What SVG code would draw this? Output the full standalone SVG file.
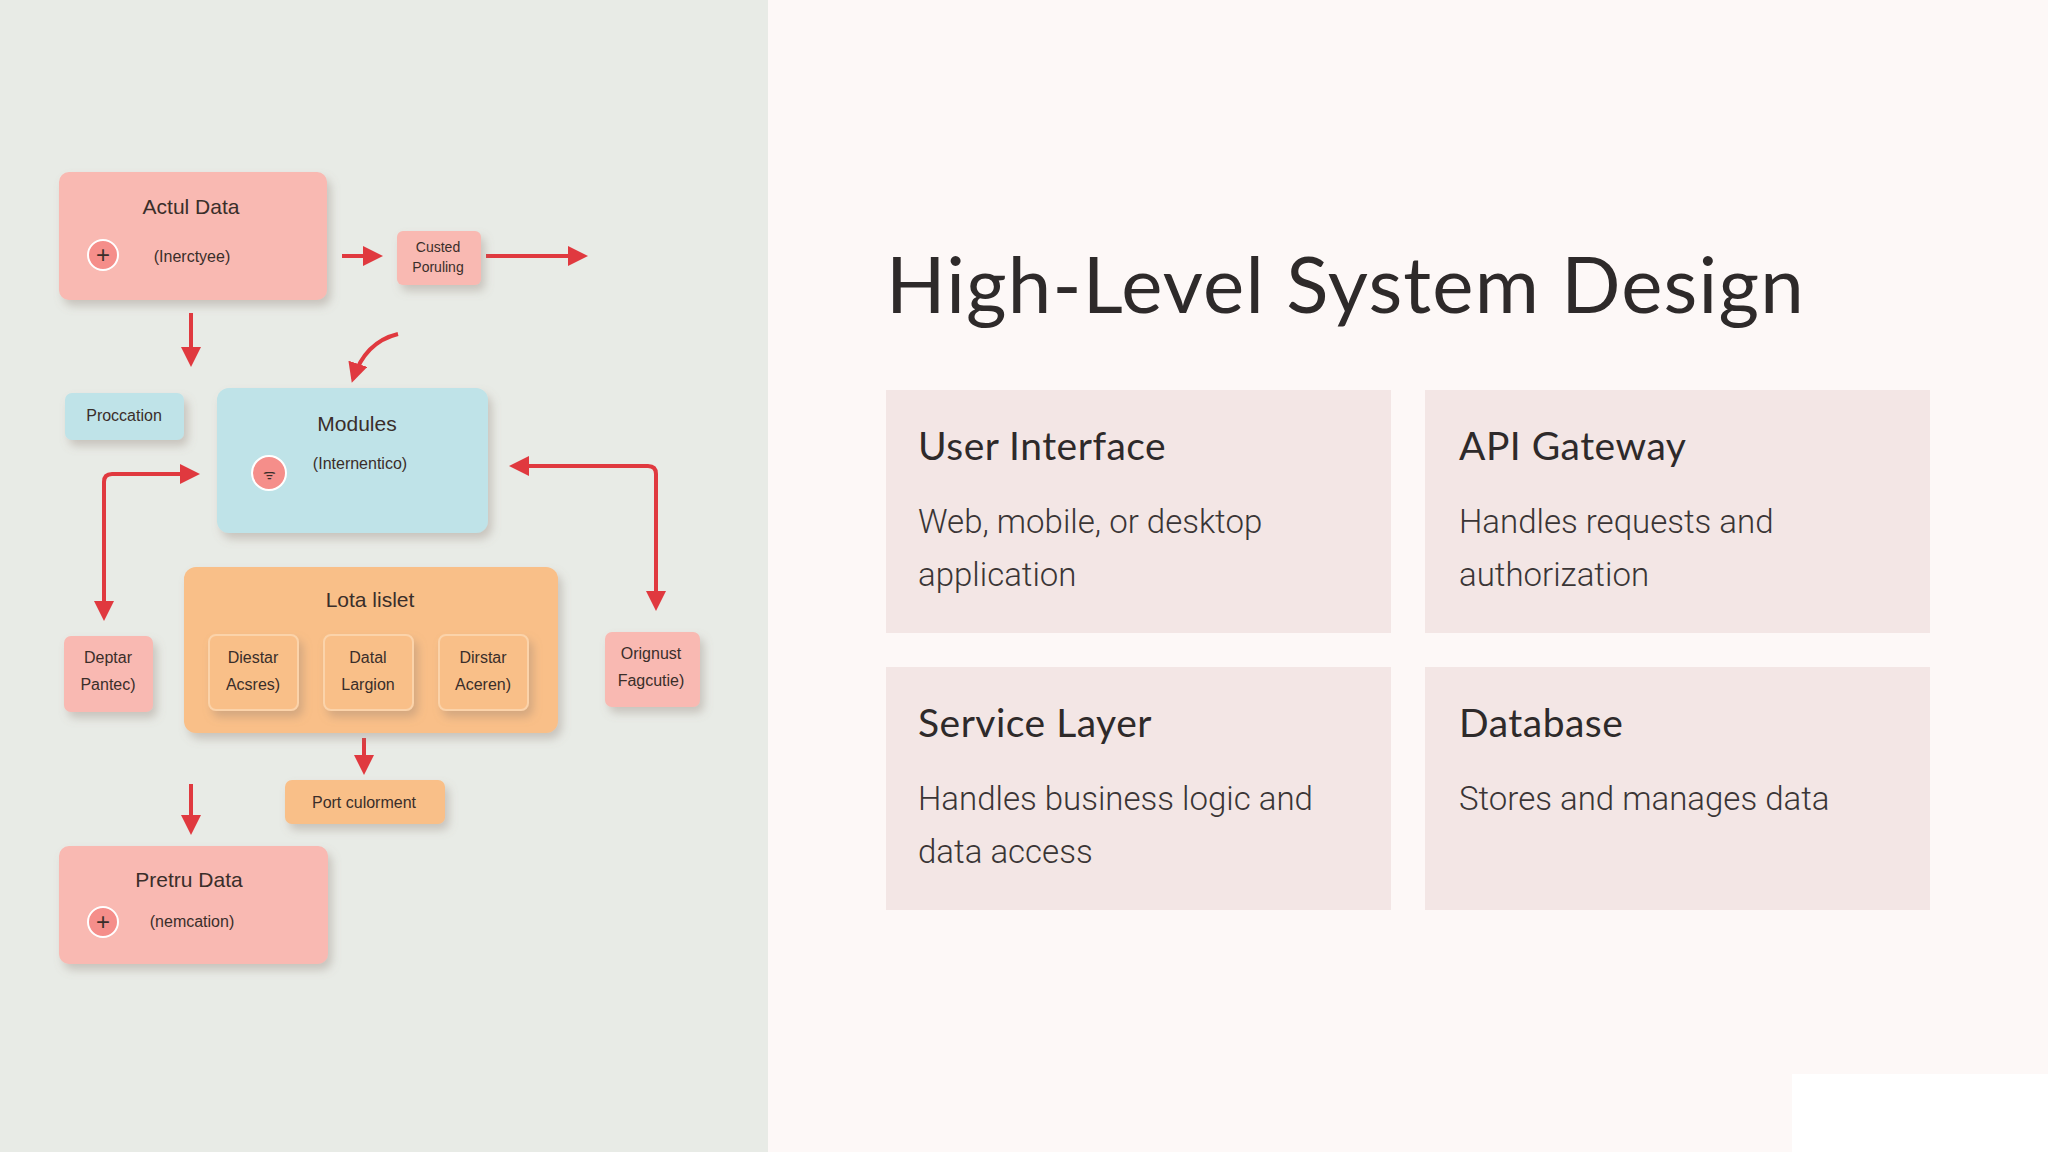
<svg xmlns="http://www.w3.org/2000/svg" width="2048" height="1152" viewBox="0 0 2048 1152">
<defs>
<filter id="sh" x="-20%" y="-20%" width="150%" height="160%"><feDropShadow dx="4" dy="6" stdDeviation="5" flood-color="#8a7a70" flood-opacity="0.35"/></filter>
<marker id="ah" viewBox="0 0 10 10" refX="8" refY="5" markerWidth="5" markerHeight="5" orient="auto-start-reverse"><path d="M0,0 L10,5 L0,10 z" fill="#e0393f"/></marker>
<style>
.t{font-family:"Liberation Sans",Arial,sans-serif;fill:#3a2e2a;text-anchor:middle}
.pink{fill:#f9b9b2}.blue{fill:#bfe3e8}.org{fill:#f9bf88}
.c{stroke:#e0393f;stroke-width:4;fill:none;marker-end:url(#ah)}
.c2{marker-start:url(#ah)}
.card{fill:#f3e6e5}
.h{font-family:Lato,"Liberation Sans",sans-serif;fill:#2e2a2a}
.b{font-family:Roboto,"Liberation Sans",sans-serif;font-weight:300;fill:#3a3535;font-size:33px}
</style>
</defs>
<rect width="2048" height="1152" fill="#fdf8f7"/>
<rect width="768" height="1152" fill="#e8ebe6"/>
<rect x="1792" y="1074" width="256" height="78" fill="#ffffff"/>
<g id="connectors">
<path class="c" d="M342,256 H379"/>
<path class="c" d="M486,256 H584"/>
<path class="c" d="M191,313 V363"/>
<path class="c" d="M398,334 Q365,342 353,379"/>
<path class="c c2" d="M104,617 V482 Q104,474 112,474 H196"/>
<path class="c c2" d="M656,607 V474 Q656,466 648,466 H513"/>
<path class="c" d="M364,738 V771"/>
<path class="c" d="M191,784 V831"/>
</g>
<g id="actul" filter="url(#sh)"><rect class="pink" x="59" y="172" width="268" height="128" rx="10"/></g>
<text class="t" x="191" y="214" font-size="21">Actul Data</text>
<circle cx="103" cy="255" r="15" fill="#f58e8a" stroke="#fff" stroke-width="2"/><text class="t" x="103" y="263" font-size="24">+</text>
<text class="t" x="192" y="262" font-size="16">(Inerctyee)</text>
<g id="custed" filter="url(#sh)"><rect class="pink" x="397" y="231" width="84" height="54" rx="6"/></g>
<text class="t" x="438" y="252" font-size="14">Custed</text><text class="t" x="438" y="272" font-size="14">Poruling</text>
<g id="proc" filter="url(#sh)"><rect class="blue" x="65" y="393" width="119" height="47" rx="7"/></g>
<text class="t" x="124" y="421" font-size="16">Proccation</text>
<g id="modules" filter="url(#sh)"><rect class="blue" x="217" y="388" width="271" height="145" rx="12"/></g>
<text class="t" x="357" y="431" font-size="21">Modules</text>
<circle cx="269" cy="473" r="17" fill="#f58e8a" stroke="#fff" stroke-width="2"/><text class="t" x="269" y="479" font-size="14">ᯤ</text>
<text class="t" x="360" y="469" font-size="16">(Internentico)</text>
<g id="lota" filter="url(#sh)"><rect class="org" x="184" y="567" width="374" height="166" rx="12"/></g>
<text class="t" x="370" y="607" font-size="21">Lota lislet</text>
<g id="inner" filter="url(#sh)">
<rect class="org" x="209" y="635" width="89" height="75" rx="7" stroke="#fbd3aa" stroke-width="2"/>
<rect class="org" x="324" y="635" width="89" height="75" rx="7" stroke="#fbd3aa" stroke-width="2"/>
<rect class="org" x="439" y="635" width="89" height="75" rx="7" stroke="#fbd3aa" stroke-width="2"/>
</g>
<text class="t" x="253" y="663" font-size="16">Diestar</text><text class="t" x="253" y="690" font-size="16">Acsres)</text>
<text class="t" x="368" y="663" font-size="16">Datal</text><text class="t" x="368" y="690" font-size="16">Largion</text>
<text class="t" x="483" y="663" font-size="16">Dirstar</text><text class="t" x="483" y="690" font-size="16">Aceren)</text>
<g id="deptar" filter="url(#sh)"><rect class="pink" x="64" y="636" width="89" height="76" rx="7"/></g>
<text class="t" x="108" y="663" font-size="16">Deptar</text><text class="t" x="108" y="690" font-size="16">Pantec)</text>
<g id="orig" filter="url(#sh)"><rect class="pink" x="605" y="632" width="95" height="75" rx="7"/></g>
<text class="t" x="651" y="659" font-size="16">Orignust</text><text class="t" x="651" y="686" font-size="16">Fagcutie)</text>
<g id="port" filter="url(#sh)"><rect class="org" x="285" y="780" width="160" height="44" rx="7"/></g>
<text class="t" x="364" y="808" font-size="16">Port culorment</text>
<g id="pretru" filter="url(#sh)"><rect class="pink" x="59" y="846" width="269" height="118" rx="10"/></g>
<text class="t" x="189" y="887" font-size="21">Pretru Data</text>
<circle cx="103" cy="922" r="15" fill="#f58e8a" stroke="#fff" stroke-width="2"/><text class="t" x="103" y="930" font-size="24">+</text>
<text class="t" x="192" y="927" font-size="16">(nemcation)</text>
<text class="h" x="886" y="313" font-size="78" letter-spacing="1.2">High-Level System Design</text>
<g id="ui"><rect class="card" x="886" y="390" width="505" height="243"/>
<text class="h" x="918" y="460" font-size="39" letter-spacing="0.5">User Interface</text>
<text class="b" x="918" y="533">Web, mobile, or desktop</text><text class="b" x="918" y="586">application</text></g>
<g id="api"><rect class="card" x="1425" y="390" width="505" height="243"/>
<text class="h" x="1459" y="460" font-size="39" letter-spacing="0.5">API Gateway</text>
<text class="b" x="1459" y="533">Handles requests and</text><text class="b" x="1459" y="586">authorization</text></g>
<g id="svc"><rect class="card" x="886" y="667" width="505" height="243"/>
<text class="h" x="918" y="737" font-size="39" letter-spacing="0.5">Service Layer</text>
<text class="b" x="918" y="810">Handles business logic and</text><text class="b" x="918" y="863">data access</text></g>
<g id="db"><rect class="card" x="1425" y="667" width="505" height="243"/>
<text class="h" x="1459" y="737" font-size="39" letter-spacing="0.5">Database</text>
<text class="b" x="1459" y="810">Stores and manages data</text></g>
</svg>
